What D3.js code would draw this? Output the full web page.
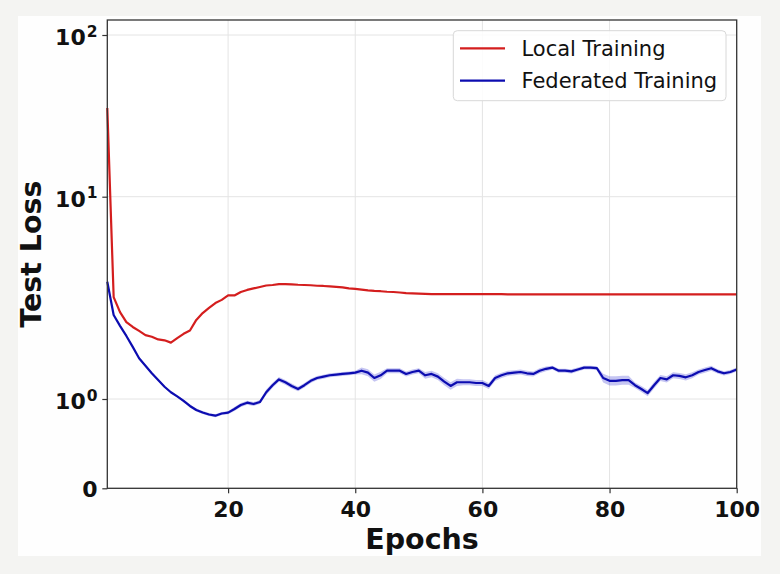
<!DOCTYPE html>
<html>
<head>
<meta charset="utf-8">
<script src="https://cdn.jsdelivr.net/npm/d3@7"></script>
<style>
  html, body { margin: 0; padding: 0; background: #f4f4f2; }
  svg { display: block; font-family: "DejaVu Sans", sans-serif; }
  .tick-label { font-size: 22px; font-weight: bold; fill: #111; }
  .axis-title { font-size: 28.5px; font-weight: bold; fill: #111; }
  .legend-text { font-size: 21px; fill: #111; }
</style>
</head>
<body>
<div id="chart"></div>
<script>
const epochs = d3.range(1, 101);

const localLoss = [35.4, 3.19, 2.69, 2.40, 2.27, 2.17, 2.07, 2.03, 1.97, 1.95,
  1.90, 2.00, 2.10, 2.18, 2.46, 2.66, 2.82, 2.98, 3.09, 3.25,
  3.25, 3.38, 3.46, 3.52, 3.58, 3.64, 3.66, 3.70, 3.70, 3.69,
  3.67, 3.66, 3.65, 3.63, 3.62, 3.60, 3.58, 3.56, 3.52, 3.50,
  3.47, 3.44, 3.42, 3.41, 3.39, 3.38, 3.36, 3.34, 3.33, 3.32,
  3.31, 3.30, 3.30, 3.30, 3.30, 3.30, 3.30, 3.30, 3.30, 3.30,
  3.30, 3.30, 3.30, 3.29, 3.29, 3.29, 3.29, 3.29, 3.29, 3.29,
  3.29, 3.29, 3.29, 3.29, 3.29, 3.29, 3.29, 3.29, 3.29, 3.29,
  3.29, 3.29, 3.29, 3.29, 3.29, 3.29, 3.29, 3.29, 3.29, 3.29,
  3.29, 3.29, 3.29, 3.29, 3.29, 3.29, 3.29, 3.29, 3.29, 3.29];

const fedLoss = [3.80, 2.60, 2.30, 2.05, 1.81, 1.59, 1.46, 1.34, 1.24, 1.15,
  1.08, 1.03, 0.978, 0.922, 0.877, 0.849, 0.826, 0.813, 0.838, 0.847,
  0.888, 0.933, 0.959, 0.944, 0.966, 1.08, 1.17, 1.25, 1.21, 1.16,
  1.12, 1.17, 1.23, 1.27, 1.29, 1.31, 1.32, 1.33, 1.34, 1.35,
  1.38, 1.35, 1.27, 1.31, 1.38, 1.38, 1.38, 1.33, 1.36, 1.38,
  1.31, 1.33, 1.29, 1.22, 1.16, 1.21, 1.21, 1.21, 1.20, 1.20,
  1.16, 1.27, 1.31, 1.34, 1.35, 1.36, 1.34, 1.33, 1.38, 1.41,
  1.43, 1.38, 1.38, 1.37, 1.40, 1.43, 1.43, 1.42, 1.27, 1.23,
  1.23, 1.24, 1.24, 1.17, 1.12, 1.07, 1.17, 1.27, 1.25, 1.31,
  1.30, 1.28, 1.31, 1.36, 1.39, 1.42, 1.37, 1.34, 1.36, 1.40];

const fedStd = [0.043, 0.030, 0.026, 0.023, 0.021, 0.018, 0.017, 0.015, 0.014, 0.013,
  0.012, 0.012, 0.017, 0.017, 0.017, 0.017, 0.017, 0.017, 0.017, 0.017,
  0.022, 0.022, 0.022, 0.022, 0.022, 0.033, 0.033, 0.033, 0.033, 0.033,
  0.029, 0.029, 0.029, 0.029, 0.029, 0.029, 0.029, 0.029, 0.029, 0.029,
  0.053, 0.053, 0.053, 0.053, 0.039, 0.039, 0.039, 0.039, 0.039, 0.039,
  0.050, 0.050, 0.050, 0.050, 0.050, 0.050, 0.041, 0.041, 0.041, 0.041,
  0.041, 0.041, 0.039, 0.039, 0.039, 0.039, 0.039, 0.039, 0.039, 0.039,
  0.032, 0.032, 0.032, 0.032, 0.032, 0.032, 0.032, 0.032, 0.064, 0.064,
  0.064, 0.064, 0.064, 0.038, 0.038, 0.038, 0.044, 0.044, 0.044, 0.044,
  0.044, 0.044, 0.044, 0.040, 0.040, 0.040, 0.032, 0.032, 0.032, 0.032];

const xTicks = [20, 40, 60, 80, 100];
const yTicks = [0, 1, 10, 100];
const yTickLabels = [["0", ""], ["10", "0"], ["10", "1"], ["10", "2"]];
const seriesNames = ["Local Training", "Federated Training"];
const seriesColors = ["#d41e1e", "#0c0cb0"];

const width = 780, height = 574;
const plotLeft = 107.3, plotRight = 736.7, plotTop = 20, plotBottom = 488.3;

// symlog-like axis: linear below 1, log above
const tr = v => v <= 1 ? v : 1 + Math.log10(v);

const x = d3.scaleLinear().domain([1, 100]).range([plotLeft, plotRight]);
const y = d3.scaleLinear().domain([0, 1, 2, 3]).range([plotBottom, 399, 196.7, 35]);
const yv = v => y(tr(v));

const svg = d3.select("#chart").append("svg")
  .attr("width", width)
  .attr("height", height);

svg.append("rect")
  .attr("x", 18).attr("y", 16)
  .attr("width", 743).attr("height", 540)
  .attr("fill", "#fefefe");

svg.append("rect")
  .attr("x", plotLeft).attr("y", plotTop)
  .attr("width", plotRight - plotLeft).attr("height", plotBottom - plotTop)
  .attr("fill", "#ffffff");

// grid
const grid = svg.append("g").attr("stroke", "#e4e4e4").attr("stroke-width", 1);
xTicks.filter(d => d < 100).forEach(d => {
  grid.append("line")
    .attr("x1", x(d)).attr("x2", x(d))
    .attr("y1", plotTop).attr("y2", plotBottom);
});
yTicks.filter(d => d > 0).forEach(d => {
  grid.append("line")
    .attr("x1", plotLeft).attr("x2", plotRight)
    .attr("y1", yv(d)).attr("y2", yv(d));
});

// std band
const band = d3.area()
  .x((d, i) => x(epochs[i]))
  .y0((d, i) => yv(fedLoss[i] - fedStd[i]))
  .y1((d, i) => yv(fedLoss[i] + fedStd[i]));

svg.append("path")
  .datum(fedLoss)
  .attr("d", band)
  .attr("fill", "#3030d0")
  .attr("fill-opacity", 0.28);

const line = d3.line()
  .x((d, i) => x(epochs[i]))
  .y(d => yv(d));

[localLoss, fedLoss].forEach((s, k) => {
  svg.append("path")
    .datum(s)
    .attr("d", line)
    .attr("fill", "none")
    .attr("stroke", seriesColors[k])
    .attr("stroke-width", 2.2)
    .attr("stroke-linejoin", "round");
});

// frame
svg.append("rect")
  .attr("x", plotLeft).attr("y", plotTop)
  .attr("width", plotRight - plotLeft).attr("height", plotBottom - plotTop)
  .attr("fill", "none")
  .attr("stroke", "#333")
  .attr("stroke-width", 1.3);

// x axis
const xAxis = svg.append("g")
  .attr("transform", `translate(0,${plotBottom})`)
  .call(d3.axisBottom(x).tickValues(xTicks).tickSize(5).tickPadding(8).tickFormat(d3.format("d")));
xAxis.select(".domain").remove();
xAxis.selectAll(".tick line").attr("stroke", "#333").attr("stroke-width", 1.2);
xAxis.selectAll(".tick text")
  .attr("class", "tick-label")
  .attr("font-family", null).attr("font-size", null)
  .attr("dy", null).attr("y", 28.6);
xAxis.attr("font-family", null).attr("font-size", null);

// y axis
const yAxis = svg.append("g")
  .attr("transform", `translate(${plotLeft},0)`)
  .call(d3.axisLeft(y).tickValues(yTicks.map(tr)).tickSize(5).tickFormat(""));
yAxis.select(".domain").remove();
yAxis.selectAll(".tick line").attr("stroke", "#333").attr("stroke-width", 1.2);

yTicks.forEach((d, i) => {
  const lab = yTickLabels[i];
  const t = svg.append("text")
    .attr("class", "tick-label")
    .attr("text-anchor", "end")
    .attr("x", 97.5)
    .attr("y", yv(d) + (lab[1] ? 10 : 8.5));
  t.append("tspan").text(lab[0]);
  if (lab[1]) {
    t.append("tspan")
      .attr("dy", -8.5)
      .attr("dx", 1)
      .attr("font-size", 15.5)
      .text(lab[1]);
  }
});

// titles
svg.append("text")
  .attr("class", "axis-title")
  .attr("text-anchor", "middle")
  .attr("x", (plotLeft + plotRight) / 2)
  .attr("y", 548.5)
  .text("Epochs");

svg.append("text")
  .attr("class", "axis-title")
  .attr("text-anchor", "middle")
  .attr("transform", `translate(41,${(plotTop + plotBottom) / 2}) rotate(-90)`)
  .text("Test Loss");

// legend
const legend = svg.append("g");
legend.append("rect")
  .attr("x", 453.3).attr("y", 30.7)
  .attr("width", 272.7).attr("height", 70)
  .attr("rx", 4)
  .attr("fill", "#ffffff").attr("fill-opacity", 0.85)
  .attr("stroke", "#d8d8d8").attr("stroke-width", 1);

seriesNames.forEach((name, i) => {
  const ly = 48.3 + i * 32.4;
  legend.append("line")
    .attr("x1", 460).attr("x2", 505)
    .attr("y1", ly).attr("y2", ly)
    .attr("stroke", seriesColors[i])
    .attr("stroke-width", 2.2);
  legend.append("text")
    .attr("class", "legend-text")
    .attr("x", 521.5)
    .attr("y", ly + 7.5)
    .text(name);
});
</script>
</body>
</html>
